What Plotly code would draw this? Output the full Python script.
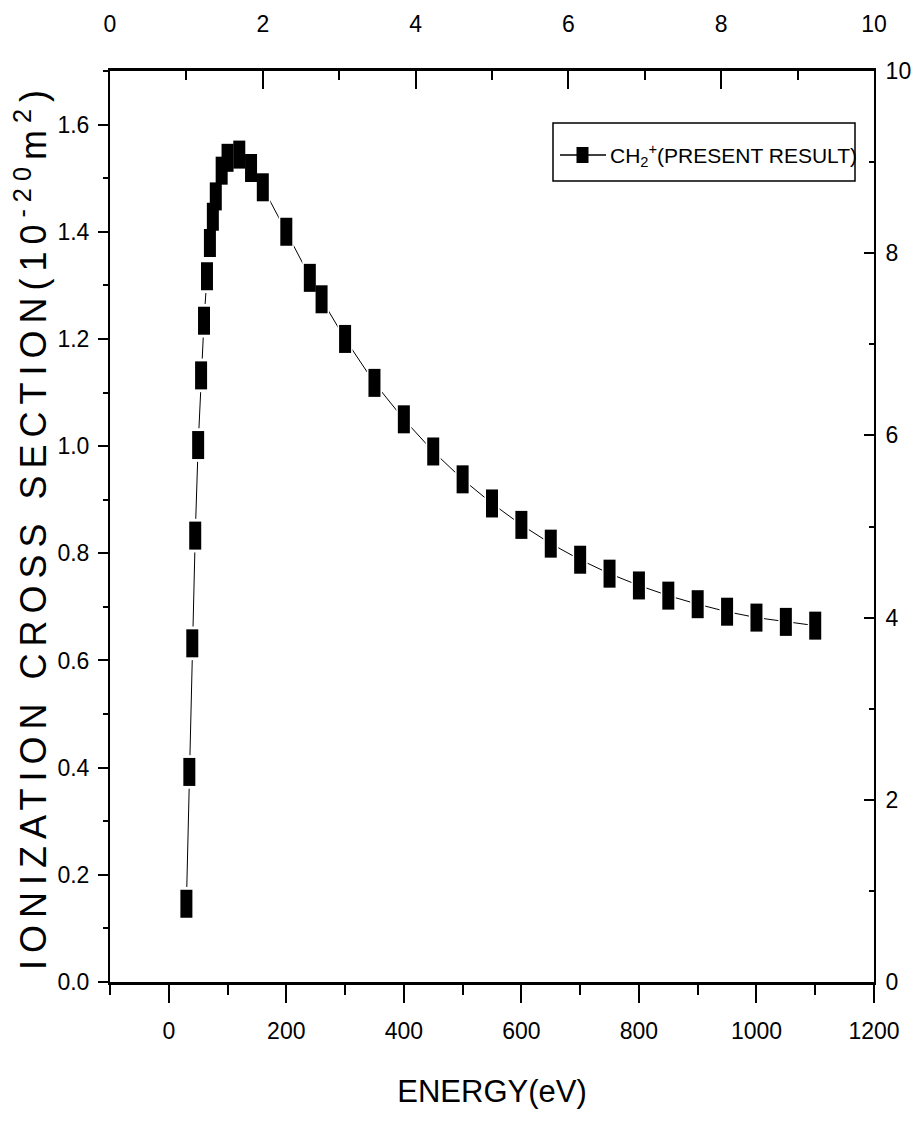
import plotly.graph_objects as go

# ---- data ----
energy_eV = [30, 35, 40, 45, 50, 55, 60, 65, 70, 75, 80, 90, 100, 120, 140, 160,
             200, 240, 260, 300, 350, 400, 450, 500, 550, 600, 650, 700, 750,
             800, 850, 900, 950, 1000, 1050, 1100]
cross_section = [0.146, 0.392, 0.632, 0.833, 1.002, 1.132, 1.234, 1.317, 1.379,
                 1.428, 1.466, 1.514, 1.538, 1.544, 1.519, 1.483,
                 1.400, 1.314, 1.274, 1.200, 1.118, 1.050, 0.990, 0.938, 0.893,
                 0.853, 0.818, 0.788, 0.762, 0.740, 0.721, 0.705, 0.691, 0.680,
                 0.672, 0.665]
series_name = "CH<sub>2</sub><sup>+</sup>(PRESENT RESULT)"
x_title = "ENERGY(eV)"
y_title = "IONIZATION CROSS SECTION(10<sup>-20</sup>m<sup>2</sup>)"

FONT = "Liberation Sans, Arial, sans-serif"

W, H = 914, 1123
ML, MR, MT, MB = 110, 40, 71, 141
PW, PH = W - ML - MR, H - MT - MB


def px(x):
    return (x - ML) / PW


def py(y):
    return (H - MB - y) / PH


fig = go.Figure()

# connecting line
fig.add_trace(go.Scatter(x=energy_eV, y=cross_section, mode="lines",
                         line=dict(color="black", width=1), showlegend=False,
                         hoverinfo="skip"))
# white halo around markers
fig.add_trace(go.Scatter(x=energy_eV, y=cross_section, mode="markers",
                         marker=dict(symbol="line-ns", size=24,
                                     line=dict(color="white", width=15)),
                         showlegend=False, hoverinfo="skip"))
# rectangular black markers
fig.add_trace(go.Scatter(x=energy_eV, y=cross_section, mode="markers",
                         marker=dict(symbol="line-ns", size=20,
                                     line=dict(color="black", width=12)),
                         name=series_name, showlegend=False))
# empty trace to activate the secondary axes
fig.add_trace(go.Scatter(x=[None], y=[None], xaxis="x2", yaxis="y2",
                         showlegend=False, hoverinfo="skip"))

common = dict(showgrid=False, zeroline=False, showline=True, automargin=False,
              linecolor="black", tickcolor="black", tickwidth=2,
              color="black")

fig.update_layout(
    width=W, height=H,
    margin=dict(l=ML, r=MR, t=MT, b=MB, pad=0),
    paper_bgcolor="white", plot_bgcolor="white",
    showlegend=False,
    xaxis=dict(range=[-100, 1200], tick0=0, dtick=200, ticks="outside",
               ticklen=18, linewidth=3,
               tickfont=dict(family=FONT, size=23),
               ticklabelstandoff=8,
               minor=dict(dtick=100, tick0=0, ticks="outside", ticklen=10,
                          tickwidth=2, tickcolor="black"),
               title=dict(text=x_title, font=dict(family=FONT, size=31),
                          standoff=38),
               **common),
    xaxis2=dict(range=[0, 10], overlaying="x", side="top", anchor="y",
                tick0=0, dtick=2, ticks="inside", ticklen=18, linewidth=3,
                tickfont=dict(family=FONT, size=23),
                ticklabelstandoff=27,
                minor=dict(dtick=1, ticks="inside", ticklen=9, tickwidth=2,
                           tickcolor="black"),
                **common),
    yaxis=dict(range=[0, 1.7], tick0=0, dtick=0.2, tickformat=".1f",
               ticks="outside", ticklen=10, linewidth=2,
               tickfont=dict(family=FONT, size=23),
               ticklabelstandoff=4,
               minor=dict(dtick=0.1, ticks="outside", ticklen=5, tickwidth=2,
                          tickcolor="black"),
               title=dict(text='<span style="letter-spacing:7px">' + y_title + '</span>',
                          font=dict(family=FONT, size=36), standoff=0),
               **common),
    yaxis2=dict(range=[0, 10], overlaying="y", side="right", anchor="x",
                tick0=0, dtick=2, ticks="inside", ticklen=10, linewidth=2,
                tickfont=dict(family=FONT, size=23),
                ticklabelstandoff=5,
                minor=dict(dtick=1, ticks="inside", ticklen=5, tickwidth=2,
                           tickcolor="black"),
                **common),
)

# ---- hand-drawn legend (box, line, marker, text) ----
fig.add_shape(type="rect", xref="paper", yref="paper",
              x0=px(553), x1=px(855), y0=py(181), y1=py(123),
              line=dict(color="black", width=1.5), fillcolor="white")
fig.add_shape(type="line", xref="paper", yref="paper",
              x0=px(560), x1=px(606), y0=py(155), y1=py(155),
              line=dict(color="black", width=1.5))
fig.add_shape(type="rect", xref="paper", yref="paper",
              x0=px(576.5), x1=px(588.5), y0=py(163), y1=py(147),
              line=dict(width=0), fillcolor="black")
fig.add_annotation(xref="paper", yref="paper", x=px(608), y=py(155),
                   xanchor="left", yanchor="middle", showarrow=False,
                   text=series_name, font=dict(family=FONT, size=21,
                                               color="black"))

fig.write_html("out.html")
